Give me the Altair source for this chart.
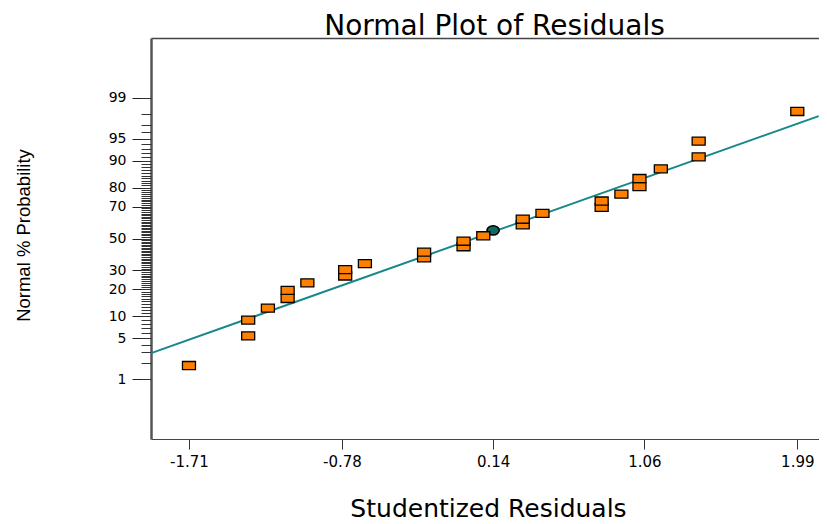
import altair as alt
import pandas as pd
from statistics import NormalDist

nd = NormalDist()

# Studentized residuals (x) and normal % probability (y) for the 27 square points
residuals = [-1.71, -1.35, -1.35, -1.23, -1.11, -1.11, -0.99, -0.76, -0.76, -0.64,
             -0.28, -0.28, -0.04, -0.04, 0.08, 0.32, 0.32, 0.44, 0.80, 0.80,
             0.92, 1.03, 1.03, 1.16, 1.39, 1.39, 1.99]
probabilities = [1.8, 5.4, 8.9, 12.5, 16.1, 19.6, 23.2, 26.8, 30.4, 33.9,
                 37.5, 41.1, 44.6, 48.2, 51.8, 58.9, 62.5, 66.1, 69.6, 73.2,
                 76.8, 80.4, 83.9, 87.5, 91.1, 94.6, 98.2]

# highlighted (circle) point
circle_residual = [0.14]
circle_probability = [55.4]

# reference line
fit_residual = [-1.94, 2.12]
fit_probability = [2.92, 97.83]

# axis ticks
x_ticks = [-1.71, -0.78, 0.14, 1.06, 1.99]
y_major_pct = [1, 5, 10, 20, 30, 50, 70, 80, 90, 95, 99]
y_minor_pct = list(range(1, 100))

def z(p):
    return nd.inv_cdf(p / 100.0)

pts = pd.DataFrame({"r": residuals, "p": probabilities})
pts["z"] = [z(p) for p in probabilities]
circ = pd.DataFrame({"r": circle_residual, "p": circle_probability})
circ["z"] = [z(p) for p in circle_probability]
fit = pd.DataFrame({"r": fit_residual, "p": fit_probability})
fit["z"] = [z(p) for p in fit_probability]

major_z = [z(p) for p in y_major_pct]
minor_z = [z(p) for p in y_minor_pct]

xscale = alt.Scale(domain=[-1.941, 2.122], nice=False, zero=False)
yscale = alt.Scale(domain=[-3.31, 3.31], nice=False, zero=False)

AX = "#444444"
FONT = "DejaVu Sans"

line = alt.Chart(fit).mark_line(color="#17878a", strokeWidth=2).encode(
    x=alt.X("r:Q", scale=xscale, axis=alt.Axis(
        values=x_ticks,
        labelExpr="(datum.value < 0 ? '-' : '') + format(abs(datum.value), '.2f')",
        title="Studentized Residuals", grid=False,
        tickSize=10, tickColor="#333333", domainColor=AX, domainWidth=1,
        labelFont=FONT, labelFontSize=15, labelColor="black", labelPadding=5,
        titleFont=FONT, titleFontSize=25, titleFontWeight="normal", titleColor="black",
        titleX=337, titleY=77, titleBaseline="alphabetic", titleAlign="center")),
    y=alt.Y("z:Q", scale=yscale, axis=alt.Axis(
        values=major_z, labelExpr="format(cumulativeNormal(datum.value)*100, '.0f')",
        tickSize=19, tickColor="#222222", domainColor="#555555", domainWidth=2.5,
        grid=False, labelFont=FONT, labelFontSize=14, labelColor="black", labelPadding=6,
        title="Normal % Probability", titleFont="Liberation Sans",
        titleFontSize=18.5, titleFontWeight="normal", titleColor="black",
        titleX=-122, titleY=197, titleBaseline="alphabetic", titleAlign="center")),
)

ellipse = "M -1 0 A 1 0.75 0 1 0 1 0 A 1 0.75 0 1 0 -1 0 Z"
circle = alt.Chart(circ).mark_point(
    shape=ellipse, size=150, filled=True, fill="#0d6b62", stroke="black",
    strokeWidth=1.6, opacity=1
).encode(
    x=alt.X("r:Q", scale=xscale, axis=alt.Axis(
        orient="top", labels=False, ticks=False, domain=True, domainColor=AX,
        domainWidth=1.5, grid=False, title="Normal Plot of Residuals",
        titleFont=FONT, titleFontSize=28, titleFontWeight="normal", titleColor="black",
        titleX=343, titleY=-4, titleBaseline="alphabetic", titleAlign="center")),
    y=alt.Y("z:Q", scale=yscale, axis=None),
)

rect = "M -1 -0.62 L 1 -0.62 L 1 0.62 L -1 0.62 Z"
squares = alt.Chart(pts).mark_point(
    shape=rect, size=169, filled=True, fill="#ff8000", stroke="black",
    strokeWidth=1.3, opacity=1
).encode(
    x=alt.X("r:Q", scale=xscale, axis=None),
    y=alt.Y("z:Q", scale=yscale, axis=alt.Axis(
        orient="left", values=minor_z, labels=False, tickSize=10,
        tickColor="#333333", tickWidth=1, domain=False, grid=False, title="")),
)

chart = alt.layer(line, circle, squares).resolve_axis(
    x="independent", y="independent"
).properties(
    width=668, height=401,
    autosize=alt.AutoSizeParams(type="none"),
    padding={"left": 143, "top": 30, "right": 0, "bottom": 86},
).configure_view(strokeWidth=0).configure(background="white")

chart.save("out.html", embed_options={"renderer": "svg", "actions": False})
